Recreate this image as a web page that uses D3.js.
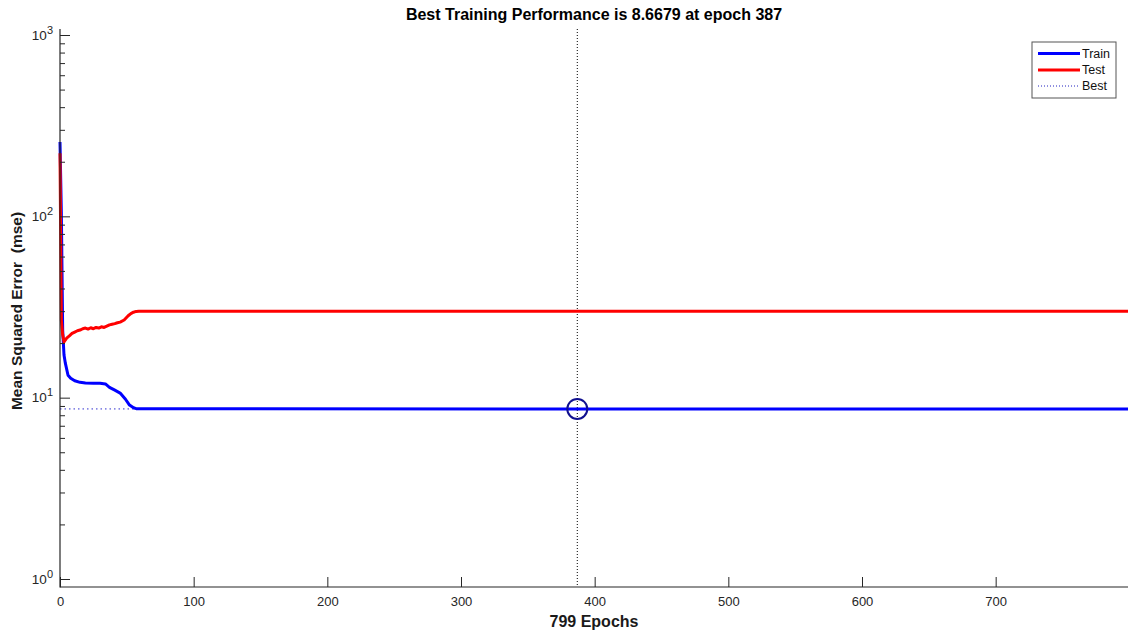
<!DOCTYPE html>
<html>
<head>
<meta charset="utf-8">
<script src="https://cdn.jsdelivr.net/npm/d3@7"></script>
<style>
  html, body { margin: 0; padding: 0; background: #fff; }
  svg { display: block; font-family: "Liberation Sans", Arial, sans-serif; }
</style>
</head>
<body>
<svg id="chart" width="1131" height="636"></svg>
<script>
// ---- data ----
const titleText = "Best Training Performance is 8.6679 at epoch 387";
const xLabelText = "799 Epochs";
const yLabelText = "Mean Squared Error  (mse)";
const totalEpochs = 799;
const bestEpoch = 387;
const bestValue = 8.6679;

const trainEpochs = [0, 1, 2, 3, 4, 6, 8, 11, 15, 19, 25, 30, 34, 37, 41, 45, 49, 52, 55, 57, 387, 799];
const trainValues = [257, 106, 23.6, 17.2, 15.5, 13.3, 12.8, 12.4, 12.15, 12.05, 12.0, 12.0, 11.9, 11.4, 11.0, 10.6, 9.8, 9.1, 8.8, 8.70, 8.6679, 8.6679];

const testEpochs = [0, 1, 2, 3, 5, 7, 9, 11, 13, 15, 17, 19, 21, 23, 25, 27, 29, 31, 33, 35, 37, 39, 41, 43, 45, 48, 51, 53, 55, 57, 59, 799];
const testValues = [223, 26.8, 22.2, 20.3, 21.3, 21.9, 22.6, 23.0, 23.4, 23.6, 24.0, 24.2, 23.9, 24.3, 24.0, 24.4, 24.2, 24.6, 24.4, 24.8, 25.2, 25.4, 25.6, 25.9, 26.1, 26.8, 28.3, 29.1, 29.6, 29.9, 30.0, 30.0];

const xTicks = [0, 100, 200, 300, 400, 500, 600, 700];
const yMajorTicks = [1, 10, 100, 1000];
const yTickExponents = ["0", "1", "2", "3"];

const legendNames = ["Train", "Test", "Best"];

// ---- layout ----
(function () {
const svg = d3.select("#chart");
const padL = 60, padR = 1128, padT = 29, padB = 587;
const axisColor = "#262626";

const x = d3.scaleLinear().domain([0, totalEpochs]).range([padL, padR]);
const yBase = d3.scaleLog().domain([1, 1000]).range([579, 35]);
const y = d3.scaleLog().domain([yBase.invert(padB), yBase.invert(padT)]).range([padB, padT]);

// minor ticks
const yMinorTicks = [];
for (const dec of [1, 10, 100]) for (let k = 2; k <= 9; k++) yMinorTicks.push(dec * k);

// best lines
svg.append("line")
  .attr("x1", x(bestEpoch)).attr("x2", x(bestEpoch))
  .attr("y1", padT).attr("y2", padB)
  .attr("stroke", "#000").attr("stroke-width", 1)
  .attr("stroke-dasharray", "1,2");
svg.append("line")
  .attr("x1", padL).attr("x2", padR)
  .attr("y1", y(bestValue)).attr("y2", y(bestValue))
  .attr("stroke", "#3030d0").attr("stroke-width", 1)
  .attr("stroke-dasharray", "1.5,3");

// series
const line = d3.line().x(d => x(d[0])).y(d => y(d[1]));
svg.append("path")
  .datum(trainEpochs.map((e, i) => [e, trainValues[i]]))
  .attr("d", line).attr("fill", "none")
  .attr("stroke", "#0000ff").attr("stroke-width", 3).attr("stroke-linejoin", "round");
svg.append("path")
  .datum(testEpochs.map((e, i) => [e, testValues[i]]))
  .attr("d", line).attr("fill", "none")
  .attr("stroke", "#ff0000").attr("stroke-width", 3).attr("stroke-linejoin", "round");

// best circle
svg.append("circle")
  .attr("cx", x(bestEpoch)).attr("cy", y(bestValue)).attr("r", 10)
  .attr("fill", "none").attr("stroke", "#101090").attr("stroke-width", 2);

// x axis
const gx = svg.append("g").attr("transform", `translate(0,${padB})`)
  .call(d3.axisBottom(x).tickValues(xTicks).tickSizeInner(-10).tickSizeOuter(0).tickPadding(10).tickFormat(d3.format("d")));
gx.select(".domain").remove();
gx.selectAll("line").attr("stroke", axisColor);
gx.selectAll("text").attr("font-size", 13).attr("fill", axisColor).attr("font-family", "Liberation Sans, Arial, sans-serif");

// y axis major
const gy = svg.append("g").attr("transform", `translate(${padL},0)`)
  .call(d3.axisLeft(y).tickValues(yMajorTicks).tickSizeInner(-10).tickSizeOuter(0).tickPadding(12).tickFormat(""));
gy.select(".domain").remove();
gy.selectAll("line").attr("stroke", axisColor);
gy.selectAll(".tick text").each(function (d, i) {
  const t = d3.select(this).attr("font-size", 13.5).attr("fill", axisColor)
    .attr("font-family", "Liberation Sans, Arial, sans-serif").attr("dy", "0.32em").attr("x", -7);
  t.append("tspan").text("10");
  t.append("tspan").attr("dy", "-0.55em").attr("font-size", 11).text(yTickExponents[i]);
});
// y axis minor
const gym = svg.append("g").attr("transform", `translate(${padL},0)`)
  .call(d3.axisLeft(y).tickValues(yMinorTicks).tickSizeInner(-5).tickSizeOuter(0).tickFormat(""));
gym.select(".domain").remove();
gym.selectAll("line").attr("stroke", axisColor);

// axis lines
svg.append("line").attr("x1", padL).attr("x2", padL).attr("y1", padT).attr("y2", padB + 0.5)
  .attr("stroke", axisColor).attr("stroke-width", 1.2);
svg.append("line").attr("x1", padL).attr("x2", padR).attr("y1", padB).attr("y2", padB)
  .attr("stroke", axisColor).attr("stroke-width", 1.2);

// titles
svg.append("text").attr("x", (padL + padR) / 2).attr("y", 20)
  .attr("text-anchor", "middle").attr("font-weight", "bold").attr("font-size", 16).attr("fill", "#000")
  .text(titleText);
svg.append("text").attr("x", (padL + padR) / 2).attr("y", 627)
  .attr("text-anchor", "middle").attr("font-weight", "bold").attr("font-size", 16).attr("fill", "#1a1a1a")
  .text(xLabelText);
svg.append("text").attr("transform", `translate(22,311) rotate(-90)`)
  .attr("text-anchor", "middle").attr("font-weight", "bold").attr("font-size", 15.5).attr("fill", "#1a1a1a")
  .style("white-space", "pre").attr("xml:space", "preserve")
  .text(yLabelText);

// legend
const lg = svg.append("g");
lg.append("rect").attr("x", 1032).attr("y", 42).attr("width", 84).attr("height", 56)
  .attr("fill", "#fff").attr("stroke", "#555").attr("stroke-width", 1);
const legendStyles = [
  { color: "#0000ff", width: 3, dash: null },
  { color: "#ff0000", width: 3, dash: null },
  { color: "#2020c0", width: 1, dash: "1,2" }
];
const legendY = [53.5, 70, 86];
legendNames.forEach((name, i) => {
  lg.append("line").attr("x1", 1038).attr("x2", 1080).attr("y1", legendY[i]).attr("y2", legendY[i])
    .attr("stroke", legendStyles[i].color).attr("stroke-width", legendStyles[i].width)
    .attr("stroke-dasharray", legendStyles[i].dash);
  lg.append("text").attr("x", 1082).attr("y", legendY[i]).attr("dy", "0.35em")
    .attr("font-size", 12.5).attr("fill", "#111").text(name);
});
})();
</script>
</body>
</html>
